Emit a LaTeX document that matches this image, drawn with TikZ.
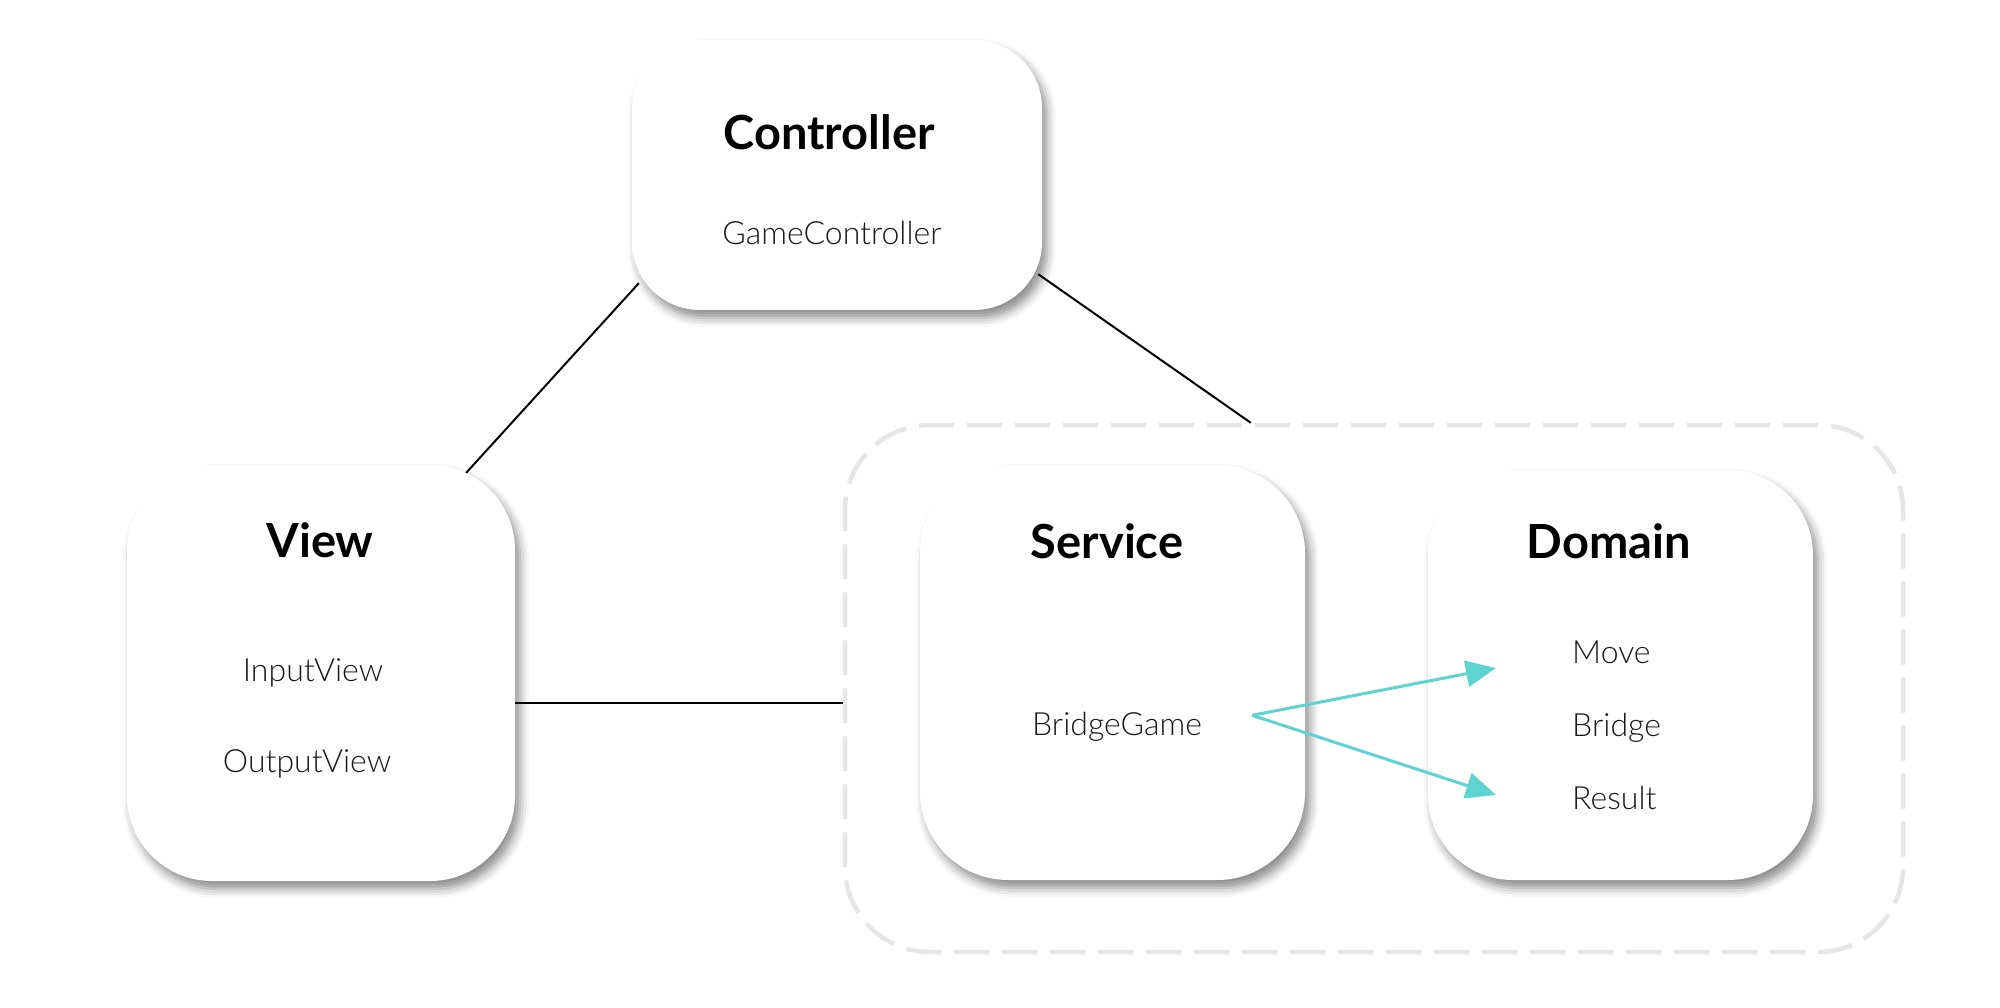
\documentclass[tikz,border=0pt]{standalone}
\usepackage{fontspec}
\IfFontExistsTF{Lato Light}{\newfontfamily\lightfont{Lato Light}}{\newfontfamily\lightfont{Lato}}
\setmainfont{Lato}
\usetikzlibrary{shadows.blur,arrows.meta,calc,backgrounds}
\definecolor{dashgray}{HTML}{E6E6E6}
\definecolor{teal1}{HTML}{5ED4D0}
\tikzset{
  card/.style={draw=none, fill=white, rectangle, rounded corners=#1,
    blur shadow={shadow xshift=5pt, shadow yshift=-8pt, shadow blur radius=9pt, shadow opacity=45}},
  title/.style={anchor=base, font=\bfseries\fontsize{47}{53}\selectfont, text=black, inner sep=0pt},
  item/.style={anchor=base, font=\lightfont\fontsize{32}{38}\selectfont, text=black!90, inner sep=0pt},
  link/.style={draw=black, line width=2pt},
  flow/.style={draw=teal1, line width=3pt, -{Triangle[length=30pt,width=26pt]}},
  groupbox/.style={draw=dashgray, line width=4.5pt, dash pattern=on 35pt off 13pt, rounded corners=85pt, rectangle, fill=none},
}
\begin{document}
\begin{tikzpicture}[x=1pt,y=-1pt]
\useasboundingbox (0,0) rectangle (2000,1008);
% group
\node[groupbox, minimum width=1058pt, minimum height=527pt] (group) at (1374,688.5) {};
% cards
\node[card=68pt, minimum width=410pt, minimum height=270pt] (ctrl) at (837,175) {};
\node[card=85pt, minimum width=388pt, minimum height=416pt] (view) at (321,673) {};
\node[card=88pt, minimum width=385pt, minimum height=415pt] (serv) at (1112.5,672.5) {};
\node[card=85pt, minimum width=385pt, minimum height=410pt] (dom) at (1620.5,675) {};
% texts
\node[title] (tctrl) at (829,150) {Controller};
\node[item] (gc) at (832,245) {GameController};
\node[title] (tview) at (320,557) {View};
\node[item] (iv) at (313,681) {InputView};
\node[item] (ov) at (307,772) {OutputView};
\node[title] (tserv) at (1107,558) {Service};
\node[item] (bg) at (1117,735) {BridgeGame};
\node[title] (tdom) at (1609,558) {Domain};
\node[item, anchor=base west] (mv) at (1572,663) {Move};
\node[item, anchor=base west] (br) at (1572,736) {Bridge};
\node[item, anchor=base west] (rs) at (1572,809) {Result};
% connectors
\coordinate (c1) at ($(ctrl.south west)+(7,-27)$);
\coordinate (v1) at ($(view.north east)+(-49,8)$);
\coordinate (c2) at ($(ctrl.south east)+(-4,-36)$);
\coordinate (g1) at ($(group.north west)+(408,0)$);
\coordinate (v2) at ($(view.east)+(0,30)$);
\coordinate (g2) at (group.west |- v2);
\draw[link] (c1) -- (v1);
\draw[link] (c2) -- (g1);
\draw[link] (v2) -- (g2);
\coordinate (bgout) at ($(bg.east)+(50,-11)$);
\coordinate (tmv) at ($(mv.base west)+(-76,5)$);
\coordinate (trs) at ($(rs.base west)+(-76,-14)$);
\draw[flow] (bgout) -- (tmv);
\draw[flow] (bgout) -- (trs);
\end{tikzpicture}
\end{document}
